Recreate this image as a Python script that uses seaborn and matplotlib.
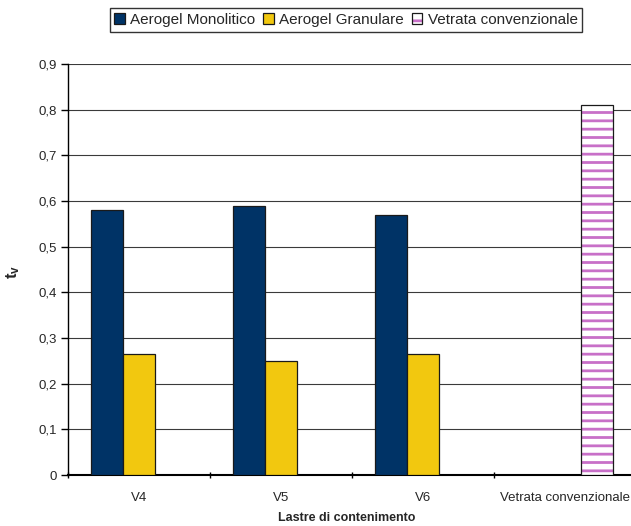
import matplotlib
matplotlib.use("Agg")
import matplotlib.pyplot as plt
import seaborn as sns
import pandas as pd
from matplotlib.colors import to_rgba
from matplotlib.ticker import FixedLocator, FuncFormatter

# Data: visible transmittance per glazing type
lastre = ["V4", "V5", "V6", "Vetrata convenzionale"]
serie = ["Aerogel Monolitico", "Aerogel Granulare", "Vetrata convenzionale"]
monolitico = [0.58, 0.59, 0.57]
granulare = [0.265, 0.25, 0.265]
convenzionale = [0.81]
yticks = [0, 0.1, 0.2, 0.3, 0.4, 0.5, 0.6, 0.7, 0.8, 0.9]

rows = []
for l, v in zip(lastre[:3], monolitico):
    rows.append({"lastra": l, "tipo": serie[0], "tv": v})
for l, v in zip(lastre[:3], granulare):
    rows.append({"lastra": l, "tipo": serie[1], "tv": v})
rows.append({"lastra": lastre[3], "tipo": serie[2], "tv": convenzionale[0]})
df = pd.DataFrame(rows)

sns.set_style("white")
plt.rcParams["font.family"] = ["Liberation Sans", "DejaVu Sans"]
plt.rcParams["hatch.linewidth"] = 2.0

W, H = 631, 526
fig = plt.figure(figsize=(W / 100, H / 100), dpi=100)
ax = fig.add_axes([68 / W, (H - 475) / H, (636 - 68) / W, (475 - 64) / H])

palette = {serie[0]: "#003366", serie[1]: "#F2C80F", serie[2]: "#FFFFFF"}
sns.barplot(data=df, x="lastra", y="tv", hue="tipo", order=lastre,
            hue_order=serie, palette=palette, dodge=True, width=0.676,
            edgecolor="#1a1a1a", linewidth=0.9, saturation=1,
            legend=False, ax=ax, zorder=3)

# Hatched conventional glazing bar
hatch_col = to_rgba("#C870C8")
for p in ax.containers[2].patches:
    p.set_hatch("--")
    p._hatch_color = hatch_col

ax.set_xlim(-0.5, 3.5)
ax.set_ylim(0, 0.9)
ax.yaxis.set_major_locator(FixedLocator(yticks))
ax.yaxis.set_major_formatter(FuncFormatter(
    lambda v, _: "0" if abs(v) < 1e-9 else f"{v:.1f}".replace(".", ",")))
ax.grid(axis="y", color="#3a3a3a", linewidth=0.8, zorder=0)
ax.grid(axis="x", visible=False)
ax.set_axisbelow(True)

for s in ["top", "right"]:
    ax.spines[s].set_visible(False)
ax.spines["left"].set_color("black")
ax.spines["left"].set_linewidth(1.0)
ax.spines["bottom"].set_color("black")
ax.spines["bottom"].set_linewidth(1.5)

ax.tick_params(axis="y", which="major", left=True, length=5, width=1,
               color="black", labelsize=9.5, pad=3)
ax.tick_params(axis="x", which="major", bottom=True, length=0,
               labelsize=9.5, pad=12)
ax.set_xticks([-0.5, 0.5, 1.5, 2.5], minor=True)
ax.tick_params(axis="x", which="minor", bottom=True, length=5, width=1,
               color="black", direction="inout")
ax.set_xlabel("")
ax.set_ylabel("")

fig.text(347 / W, 1 - 518 / H, "Lastre di contenimento", ha="center",
         va="center", fontsize=9, fontweight="bold")
plt.rcParams["mathtext.fontset"] = "custom"
plt.rcParams["mathtext.bf"] = "Liberation Sans:bold"
fig.text(13 / W, 1 - 272 / H, r"$\mathbf{t_v}$", ha="center", va="center",
         rotation=90, fontsize=12)

handles = [c.patches[[i for i, p in enumerate(c.patches)
                      if p.get_height() > 0][0]] for c in ax.containers]
leg = fig.legend(handles, serie, loc="center", ncol=3,
                 bbox_to_anchor=(346 / W, 1 - 20 / H), fontsize=11,
                 frameon=True, fancybox=False, shadow=False,
                 handlelength=0.7, handleheight=0.7, handletextpad=0.35,
                 columnspacing=0.5, borderpad=0.3, borderaxespad=0)
leg.get_frame().set_edgecolor("black")
leg.get_frame().set_linewidth(1.0)

fig.savefig("out.png", dpi=100)
